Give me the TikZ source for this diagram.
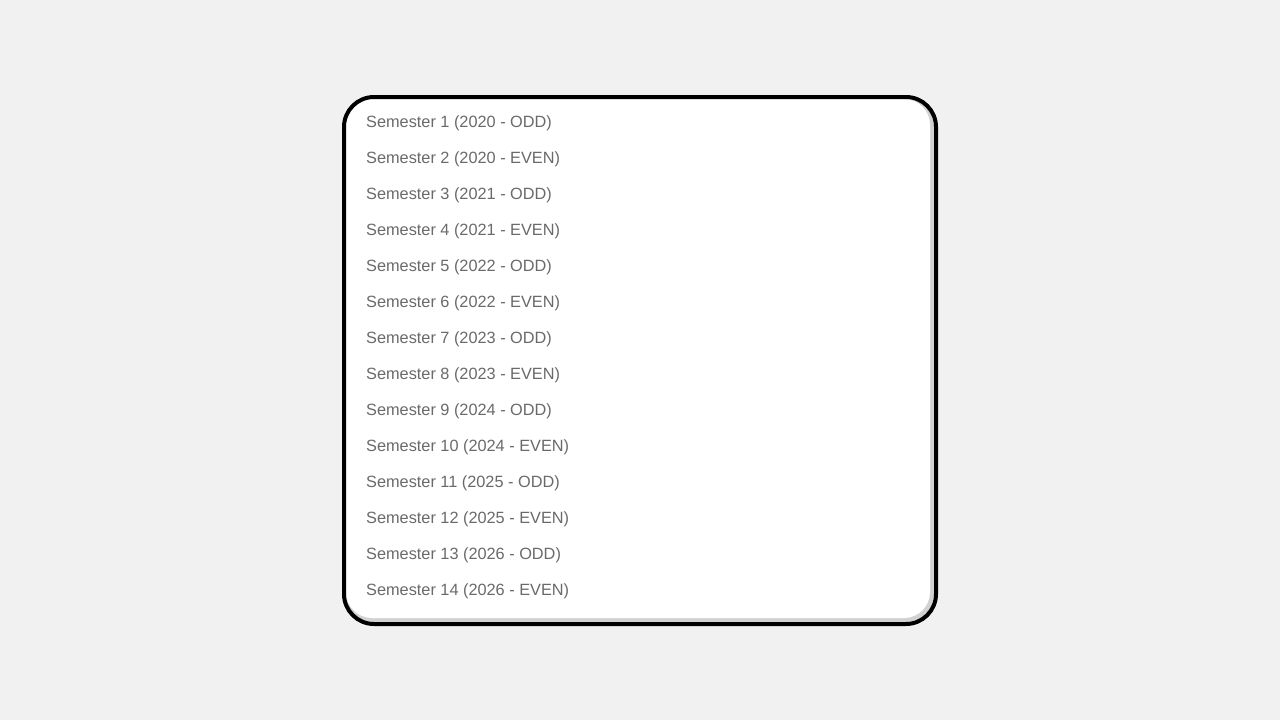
\documentclass[tikz,border=0pt]{standalone}
\usepackage{fontspec}
\setmainfont{Liberation Sans}
\definecolor{bg}{HTML}{F1F1F1}
\definecolor{txt}{HTML}{6A6A6A}
\definecolor{strip}{HTML}{D2D2D2}
\begin{document}
\begin{tikzpicture}[x=1pt,y=-1pt,
  item/.style={anchor=west,inner sep=0pt,text=txt,font=\fontsize{16.3}{16}\selectfont}]
\fill[bg] (0,0) rectangle (1280,720);
\useasboundingbox (0,0) rectangle (1280,720);
% shadow strips (right and bottom)
\fill[strip,rounded corners=28] (346,99) rectangle (934,622);
\fill[white,rounded corners=26] (346,99) rectangle (930,618);
% frame
\draw[line width=4pt,rounded corners=30] (344,97) rectangle (936,624);
\foreach \i/\t [count=\k from 0] in {
  1/{Semester 1 (2020 - ODD)},
  2/{Semester 2 (2020 - EVEN)},
  3/{Semester 3 (2021 - ODD)},
  4/{Semester 4 (2021 - EVEN)},
  5/{Semester 5 (2022 - ODD)},
  6/{Semester 6 (2022 - EVEN)},
  7/{Semester 7 (2023 - ODD)},
  8/{Semester 8 (2023 - EVEN)},
  9/{Semester 9 (2024 - ODD)},
  10/{Semester 10 (2024 - EVEN)},
  11/{Semester 11 (2025 - ODD)},
  12/{Semester 12 (2025 - EVEN)},
  13/{Semester 13 (2026 - ODD)},
  14/{Semester 14 (2026 - EVEN)}}
  \node[item] (s\i) at (366,{123.5+36*\k}) {\t};
\end{tikzpicture}
\end{document}
